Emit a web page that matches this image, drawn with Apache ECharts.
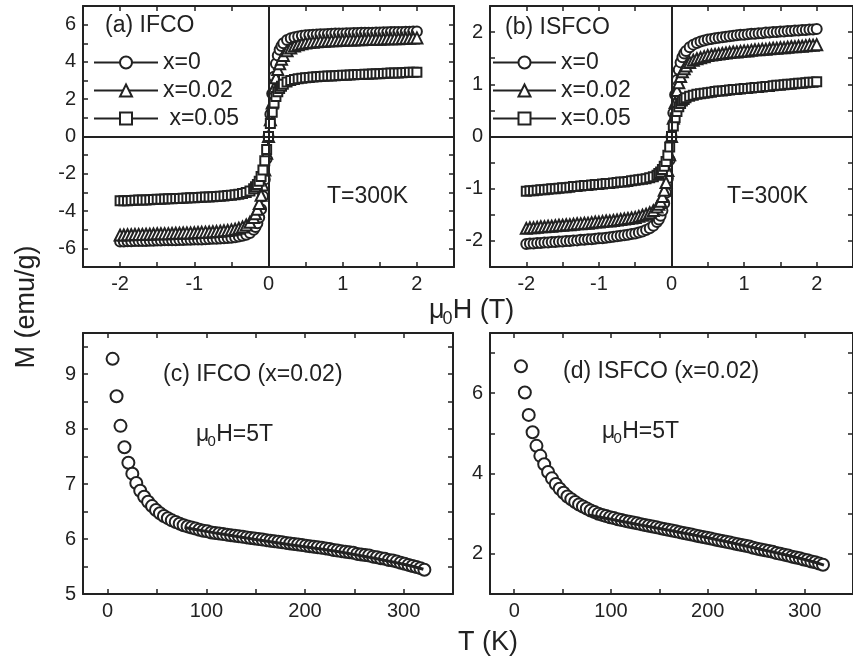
<!DOCTYPE html>
<html>
<head>
<meta charset="utf-8">
<script src="https://cdn.jsdelivr.net/npm/echarts@6/dist/echarts.min.js"></script>
<style>
  html, body { margin: 0; padding: 0; background: #fff; }
  #chart { width: 853px; height: 664px; }
</style>
</head>
<body>
<div id="chart"></div>
<script>
// field sweep (T)
const fieldH = [
  -2, -1.95, -1.9, -1.85, -1.8, -1.75, -1.7, -1.65, -1.6, -1.55,
  -1.5, -1.45, -1.4, -1.35, -1.3, -1.25, -1.2, -1.15, -1.1, -1.05,
  -1, -0.95, -0.9, -0.85, -0.8, -0.75, -0.7, -0.65, -0.6, -0.55,
  -0.5, -0.45, -0.4, -0.35, -0.3, -0.25, -0.2, -0.175, -0.15, -0.125,
  -0.1, -0.075, -0.05, -0.025, 0, 0.025, 0.05, 0.075, 0.1, 0.125,
  0.15, 0.175, 0.2, 0.25, 0.3, 0.35, 0.4, 0.45, 0.5, 0.55,
  0.6, 0.65, 0.7, 0.75, 0.8, 0.85, 0.9, 0.95, 1, 1.05,
  1.1, 1.15, 1.2, 1.25, 1.3, 1.35, 1.4, 1.45, 1.5, 1.55,
  1.6, 1.65, 1.7, 1.75, 1.8, 1.85, 1.9, 1.95, 2
]

// (a) IFCO, M (emu/g)
const ifcoX0 = [
  -5.63, -5.63, -5.62, -5.62, -5.61, -5.61, -5.6, -5.6, -5.59, -5.59,
  -5.58, -5.58, -5.57, -5.57, -5.56, -5.56, -5.55, -5.55, -5.54, -5.54,
  -5.53, -5.52, -5.52, -5.51, -5.5, -5.49, -5.48, -5.47, -5.46, -5.45,
  -5.43, -5.4, -5.37, -5.33, -5.27, -5.17, -5.0, -4.85, -4.65, -4.35,
  -3.9, -3.2, -2.3, -1.2, 0, 1.2, 2.3, 3.2, 3.9, 4.35,
  4.65, 4.85, 5.0, 5.17, 5.27, 5.33, 5.37, 5.4, 5.43, 5.45,
  5.46, 5.47, 5.48, 5.49, 5.5, 5.51, 5.52, 5.52, 5.53, 5.54,
  5.54, 5.55, 5.55, 5.56, 5.56, 5.57, 5.57, 5.58, 5.58, 5.59,
  5.59, 5.6, 5.6, 5.61, 5.61, 5.62, 5.62, 5.63, 5.63
]
const ifcoX002 = [
  -5.29, -5.28, -5.27, -5.27, -5.26, -5.25, -5.25, -5.24, -5.24, -5.23,
  -5.22, -5.22, -5.21, -5.21, -5.2, -5.19, -5.19, -5.18, -5.17, -5.17,
  -5.16, -5.15, -5.14, -5.13, -5.12, -5.11, -5.1, -5.08, -5.06, -5.04,
  -5.01, -4.97, -4.92, -4.85, -4.75, -4.6, -4.35, -4.15, -3.9, -3.6,
  -3.15, -2.6, -1.8, -0.9, 0, 0.9, 1.8, 2.6, 3.15, 3.6,
  3.9, 4.15, 4.35, 4.6, 4.75, 4.85, 4.92, 4.97, 5.01, 5.04,
  5.06, 5.08, 5.1, 5.11, 5.12, 5.13, 5.14, 5.15, 5.16, 5.17,
  5.17, 5.18, 5.19, 5.19, 5.2, 5.21, 5.21, 5.22, 5.22, 5.23,
  5.24, 5.24, 5.25, 5.25, 5.26, 5.27, 5.27, 5.28, 5.29
]
const ifcoX005 = [
  -3.45, -3.44, -3.44, -3.43, -3.42, -3.41, -3.4, -3.4, -3.39, -3.38,
  -3.37, -3.36, -3.35, -3.34, -3.34, -3.33, -3.32, -3.31, -3.3, -3.29,
  -3.28, -3.27, -3.26, -3.25, -3.24, -3.23, -3.22, -3.2, -3.19, -3.17,
  -3.15, -3.13, -3.1, -3.06, -3.01, -2.93, -2.8, -2.7, -2.58, -2.4,
  -2.15, -1.8, -1.3, -0.7, 0, 0.7, 1.3, 1.8, 2.15, 2.4,
  2.58, 2.7, 2.8, 2.93, 3.01, 3.06, 3.1, 3.13, 3.15, 3.17,
  3.19, 3.2, 3.22, 3.23, 3.24, 3.25, 3.26, 3.27, 3.28, 3.29,
  3.3, 3.31, 3.32, 3.33, 3.34, 3.34, 3.35, 3.36, 3.37, 3.38,
  3.39, 3.4, 3.4, 3.41, 3.42, 3.43, 3.44, 3.44, 3.45
]

// (b) ISFCO, M (emu/g)
const isfcoX0 = [
  -2.06, -2.05, -2.05, -2.04, -2.04, -2.03, -2.03, -2.02, -2.02, -2.01,
  -2.01, -2.0, -2.0, -1.99, -1.99, -1.98, -1.98, -1.97, -1.97, -1.96,
  -1.95, -1.95, -1.94, -1.93, -1.92, -1.91, -1.9, -1.89, -1.88, -1.87,
  -1.86, -1.84, -1.82, -1.79, -1.76, -1.71, -1.64, -1.59, -1.52, -1.42,
  -1.28, -1.08, -0.8, -0.45, 0, 0.45, 0.8, 1.08, 1.28, 1.42,
  1.52, 1.59, 1.64, 1.71, 1.76, 1.79, 1.82, 1.84, 1.86, 1.87,
  1.88, 1.89, 1.9, 1.91, 1.92, 1.93, 1.94, 1.95, 1.95, 1.96,
  1.97, 1.97, 1.98, 1.98, 1.99, 1.99, 2.0, 2.0, 2.01, 2.01,
  2.02, 2.02, 2.03, 2.03, 2.04, 2.04, 2.05, 2.05, 2.06
]
const isfcoX002 = [
  -1.76, -1.75, -1.75, -1.74, -1.73, -1.73, -1.72, -1.72, -1.71, -1.7,
  -1.7, -1.69, -1.69, -1.68, -1.67, -1.67, -1.66, -1.66, -1.65, -1.64,
  -1.64, -1.63, -1.62, -1.62, -1.61, -1.6, -1.59, -1.58, -1.57, -1.56,
  -1.55, -1.53, -1.51, -1.49, -1.46, -1.42, -1.35, -1.3, -1.24, -1.15,
  -1.03, -0.88, -0.65, -0.35, 0, 0.35, 0.65, 0.88, 1.03, 1.15,
  1.24, 1.3, 1.35, 1.42, 1.46, 1.49, 1.51, 1.53, 1.55, 1.56,
  1.57, 1.58, 1.59, 1.6, 1.61, 1.62, 1.62, 1.63, 1.64, 1.64,
  1.65, 1.66, 1.66, 1.67, 1.67, 1.68, 1.69, 1.69, 1.7, 1.7,
  1.71, 1.72, 1.72, 1.73, 1.73, 1.74, 1.75, 1.75, 1.76
]
const isfcoX005 = [
  -1.05, -1.04, -1.04, -1.03, -1.02, -1.02, -1.01, -1.0, -1.0, -0.99,
  -0.98, -0.98, -0.97, -0.96, -0.96, -0.95, -0.94, -0.94, -0.93, -0.92,
  -0.92, -0.91, -0.9, -0.9, -0.89, -0.88, -0.87, -0.87, -0.86, -0.85,
  -0.84, -0.83, -0.82, -0.81, -0.79, -0.77, -0.74, -0.71, -0.68, -0.63,
  -0.57, -0.48, -0.36, -0.2, 0, 0.2, 0.36, 0.48, 0.57, 0.63,
  0.68, 0.71, 0.74, 0.77, 0.79, 0.81, 0.82, 0.83, 0.84, 0.85,
  0.86, 0.87, 0.87, 0.88, 0.89, 0.9, 0.9, 0.91, 0.92, 0.92,
  0.93, 0.94, 0.94, 0.95, 0.96, 0.96, 0.97, 0.98, 0.98, 0.99,
  1.0, 1.0, 1.01, 1.02, 1.02, 1.03, 1.04, 1.04, 1.05
]

// (c) IFCO x=0.02, M vs T at 5 T
const tempIFCO = [
  5, 9, 13, 17, 21, 25, 29, 33, 37, 41,
  45, 49, 53, 57, 61, 65, 69, 73, 77, 81,
  85, 89, 93, 97, 101, 105, 109, 113, 117, 121,
  125, 129, 133, 137, 141, 145, 149, 153, 157, 161,
  165, 169, 173, 177, 181, 185, 189, 193, 197, 201,
  205, 209, 213, 217, 221, 225, 229, 233, 237, 241,
  245, 249, 253, 257, 261, 265, 269, 273, 277, 281,
  285, 289, 293, 297, 301, 305, 309, 313, 317, 321
]
const mIFCO = [
  9.28, 8.6, 8.06, 7.67, 7.39, 7.19, 7.02, 6.88, 6.77, 6.68,
  6.6, 6.53, 6.47, 6.42, 6.38, 6.34, 6.31, 6.28, 6.25, 6.23,
  6.21, 6.19, 6.17, 6.15, 6.14, 6.12, 6.11, 6.1, 6.09, 6.08,
  6.07, 6.06, 6.05, 6.04, 6.03, 6.02, 6.01, 6.0, 5.99, 5.98,
  5.97, 5.96, 5.95, 5.94, 5.93, 5.92, 5.91, 5.9, 5.89, 5.88,
  5.87, 5.86, 5.85, 5.84, 5.83, 5.82, 5.8, 5.79, 5.78, 5.77,
  5.76, 5.75, 5.73, 5.72, 5.71, 5.7, 5.68, 5.67, 5.65, 5.64,
  5.62, 5.61, 5.59, 5.57, 5.55, 5.53, 5.51, 5.49, 5.47, 5.44
]
const fitTempIFCO = [78, 100, 150, 200, 250, 300, 320]
const fitIFCO = [6.21, 6.14, 5.99, 5.86, 5.72, 5.54, 5.45]

// (d) ISFCO x=0.02, M vs T at 5 T
const tempISFCO = [
  7, 11, 15, 19, 23, 27, 31, 35, 39, 43,
  47, 51, 55, 59, 63, 67, 71, 75, 79, 83,
  87, 91, 95, 99, 103, 107, 111, 115, 119, 123,
  127, 131, 135, 139, 143, 147, 151, 155, 159, 163,
  167, 171, 175, 179, 183, 187, 191, 195, 199, 203,
  207, 211, 215, 219, 223, 227, 231, 235, 239, 243,
  247, 251, 255, 259, 263, 267, 271, 275, 279, 283,
  287, 291, 295, 299, 303, 307, 311, 315, 319
]
const mISFCO = [
  6.67, 6.02, 5.46, 5.03, 4.69, 4.44, 4.23, 4.04, 3.88, 3.74,
  3.62, 3.52, 3.43, 3.36, 3.29, 3.23, 3.18, 3.13, 3.08, 3.04,
  3.0, 2.97, 2.94, 2.91, 2.89, 2.86, 2.84, 2.82, 2.8, 2.78,
  2.76, 2.74, 2.72, 2.7, 2.68, 2.66, 2.64, 2.62, 2.6, 2.58,
  2.56, 2.54, 2.52, 2.5, 2.48, 2.46, 2.44, 2.42, 2.4, 2.38,
  2.36, 2.34, 2.32, 2.3, 2.28, 2.26, 2.24, 2.22, 2.2, 2.18,
  2.15, 2.13, 2.11, 2.09, 2.07, 2.05, 2.02, 2.0, 1.98, 1.96,
  1.93, 1.91, 1.89, 1.86, 1.84, 1.81, 1.79, 1.76, 1.73
]
const fitTempISFCO = [78, 100, 150, 200, 250, 300, 320]
const fitISFCO = [2.96, 2.86, 2.63, 2.4, 2.14, 1.86, 1.72]

// tick marks and labels
const hTicks = [-2.5, -2, -1.5, -1, -0.5, 0, 0.5, 1, 1.5, 2, 2.5]
const hLabels = [-2, -1, 0, 1, 2]
const mTicksA = [-7, -6, -5, -4, -3, -2, -1, 0, 1, 2, 3, 4, 5, 6, 7]
const mLabelsA = [-6, -4, -2, 0, 2, 4, 6]
const mTicksB = [-2.5, -2, -1.5, -1, -0.5, 0, 0.5, 1, 1.5, 2, 2.5]
const mLabelsB = [-2, -1, 0, 1, 2]
const tTicks = [0, 50, 100, 150, 200, 250, 300, 350]
const tLabels = [0, 100, 200, 300]
const mTicksC = [5, 5.5, 6, 6.5, 7, 7.5, 8, 8.5, 9, 9.5]
const mLabelsC = [5, 6, 7, 8, 9]
const mTicksD = [1, 2, 3, 4, 5, 6, 7]
const mLabelsD = [2, 4, 6]

const legendNames = ['x=0', 'x=0.02', 'x=0.05']

const FONT = '"Liberation Sans", Arial, sans-serif'
const INK = '#222'

const chart = echarts.init(document.getElementById('chart'))

const axis = (grid, position, min, max, ticks, labels) => ({
  type: 'value',
  gridIndex: grid,
  position: position,
  min: min,
  max: max,
  axisLine: {show: true, onZero: false, lineStyle: {color: INK, width: 2}},
  axisTick: {show: true, inside: true, length: 5, customValues: ticks, lineStyle: {color: INK, width: 1.5}},
  axisLabel: labels ? {
    show: true, customValues: labels, margin: 7,
    color: INK, fontSize: 20, fontFamily: FONT
  } : {show: false},
  splitLine: {show: false}
})

const pairs = (xs, ys) => xs.map((x, i) => [x, ys[i]])

const loop = (name, grid, ys, symbol, size, withZero) => {
  const s = {
    name: name,
    type: 'line',
    xAxisIndex: grid * 2,
    yAxisIndex: grid * 2,
    data: pairs(fieldH, ys),
    symbol: symbol,
    symbolSize: size,
    showAllSymbol: true,
    itemStyle: {color: INK, borderWidth: 1.1},
    lineStyle: {color: INK, width: 1}
  }
  if (withZero) {
    s.markLine = {
      silent: true,
      symbol: ['none', 'none'],
      label: {show: false},
      lineStyle: {color: INK, width: 2, type: 'solid'},
      data: [{xAxis: 0}, {yAxis: 0}]
    }
  }
  return s
}

const text = (x, y, str, size, extra) => ({
  type: 'text', x: x, y: y, silent: true,
  style: Object.assign({
    text: str, fill: INK, font: size + 'px ' + FONT,
    align: 'left', verticalAlign: 'middle'
  }, extra || {})
})

// mu_0 with subscript, then the rest
const muText = (x, y, rest, size) => [
  text(x, y, 'μ', size),
  text(x + size * 0.5, y + size * 0.3, '0', Math.round(size * 0.65)),
  text(x + size * 0.88, y, rest, size)
]

const yTitle = text(27, 307, 'M (emu/g)', 27, {align: 'center'})
yTitle.rotation = Math.PI / 2

chart.setOption({
  animation: false,
  backgroundColor: '#fff',
  grid: [
    {left: 83, top: 6, width: 371, height: 261},
    {left: 490, top: 6, width: 371, height: 261},
    {left: 83, top: 333, width: 370, height: 261},
    {left: 490, top: 333, width: 371, height: 261}
  ],
  xAxis: [
    axis(0, 'bottom', -2.5, 2.5, hTicks, hLabels),
    axis(0, 'top', -2.5, 2.5, hTicks, null),
    axis(1, 'bottom', -2.5, 2.5, hTicks, hLabels),
    axis(1, 'top', -2.5, 2.5, hTicks, null),
    axis(2, 'bottom', -25, 350, tTicks, tLabels),
    axis(2, 'top', -25, 350, tTicks, null),
    axis(3, 'bottom', -25, 350, tTicks, tLabels),
    axis(3, 'top', -25, 350, tTicks, null)
  ],
  yAxis: [
    axis(0, 'left', -7, 7, mTicksA, mLabelsA),
    axis(0, 'right', -7, 7, mTicksA, null),
    axis(1, 'left', -2.5, 2.5, mTicksB, mLabelsB),
    axis(1, 'right', -2.5, 2.5, mTicksB, null),
    axis(2, 'left', 5, 9.75, mTicksC, mLabelsC),
    axis(2, 'right', 5, 9.75, mTicksC, null),
    axis(3, 'left', 1, 7.5, mTicksD, mLabelsD),
    axis(3, 'right', 1, 7.5, mTicksD, null)
  ],
  legend: [
    {
      data: legendNames, orient: 'vertical', left: 93, top: 51, padding: 0,
      itemWidth: 64, itemHeight: 15, itemGap: 5, selectedMode: false,
      formatter: n => n === 'x=0.05' ? ' ' + n : n,
      textStyle: {fontSize: 23, lineHeight: 23, color: INK, fontFamily: FONT}
    },
    {
      data: legendNames, orient: 'vertical', left: 492, top: 51, padding: 0,
      itemWidth: 63, itemHeight: 15, itemGap: 5, selectedMode: false,
      textStyle: {fontSize: 23, lineHeight: 23, color: INK, fontFamily: FONT}
    }
  ],
  series: [
    loop('x=0', 0, ifcoX0, 'emptyCircle', 10, true),
    loop('x=0.02', 0, ifcoX002, 'emptyTriangle', 11, false),
    loop('x=0.05', 0, ifcoX005, 'emptyRect', 9, false),
    loop('x=0', 1, isfcoX0, 'emptyCircle', 10, true),
    loop('x=0.02', 1, isfcoX002, 'emptyTriangle', 11, false),
    loop('x=0.05', 1, isfcoX005, 'emptyRect', 9, false),
    {
      name: 'IFCO x=0.02', type: 'line', xAxisIndex: 4, yAxisIndex: 4,
      data: pairs(tempIFCO, mIFCO), symbol: 'emptyCircle', symbolSize: 12,
      itemStyle: {color: INK, borderWidth: 1.1}, lineStyle: {width: 0, opacity: 0}
    },
    {
      name: 'IFCO fit', type: 'line', xAxisIndex: 4, yAxisIndex: 4, z: 5,
      data: pairs(fitTempIFCO, fitIFCO), symbol: 'none', smooth: true,
      lineStyle: {color: INK, width: 3}
    },
    {
      name: 'ISFCO x=0.02', type: 'line', xAxisIndex: 6, yAxisIndex: 6,
      data: pairs(tempISFCO, mISFCO), symbol: 'emptyCircle', symbolSize: 12,
      itemStyle: {color: INK, borderWidth: 1.1}, lineStyle: {width: 0, opacity: 0}
    },
    {
      name: 'ISFCO fit', type: 'line', xAxisIndex: 6, yAxisIndex: 6, z: 5,
      data: pairs(fitTempISFCO, fitISFCO), symbol: 'none', smooth: true,
      lineStyle: {color: INK, width: 3}
    }
  ],
  graphic: [
    text(105, 26, '(a) IFCO', 23),
    text(505, 28, '(b) ISFCO', 23),
    text(327, 197, 'T=300K', 23),
    text(727, 197, 'T=300K', 23),
    text(163, 375, '(c) IFCO (x=0.02)', 23),
    text(563, 372, '(d) ISFCO (x=0.02)', 23),
    ...muText(196, 435, 'H=5T', 23),
    ...muText(602, 432, 'H=5T', 23),
    ...muText(429, 311, 'H (T)', 27),
    text(458, 643, 'T (K)', 27),
    yTitle
  ]
})
</script>
</body>
</html>
